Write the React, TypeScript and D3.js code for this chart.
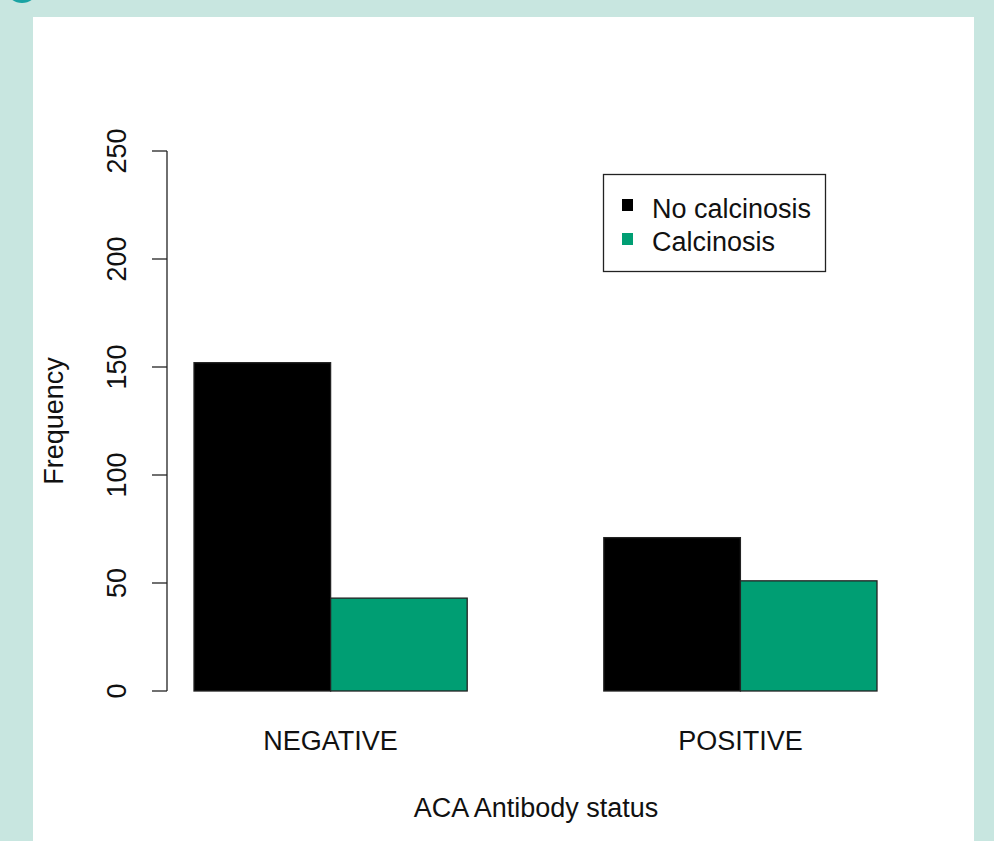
import React from "react";
import * as d3 from "d3";

const categories = ["NEGATIVE", "POSITIVE"];
const seriesNames = ["No calcinosis", "Calcinosis"];
const noCalcinosis = [152, 71];
const calcinosis = [43, 51];
const yTicks = [0, 50, 100, 150, 200, 250];

const colors = ["#000000", "#009E73"];
const FONT = "'Liberation Sans', Arial, sans-serif";
const FS = 27;

export default function App() {
  const W = 994, H = 841;
  const y = d3.scaleLinear().domain([0, 250]).range([691, 151]);
  const x = d3.scaleLinear().domain([1, 6]).range([194, 877]);
  const series = [noCalcinosis, calcinosis];

  const bars: { x0: number; x1: number; v: number; c: string }[] = [];
  categories.forEach((_, i) => {
    series.forEach((s, j) => {
      const start = 1 + i * 3 + j;
      bars.push({ x0: x(start), x1: x(start + 1), v: s[i], c: colors[j] });
    });
  });

  return (
    <svg width={W} height={H} style={{ position: "absolute", left: 0, top: 0 }} fontFamily={FONT}>
      <rect x={0} y={0} width={W} height={H} fill="#c8e6e0" />
      <ellipse cx={22} cy={-8} rx={14} ry={11} fill="#1aa3a3" />
      <rect x={33} y={17} width={941} height={H - 17} fill="#ffffff" />

      {/* bars */}
      {bars.map((b, k) => (
        <rect
          key={k}
          x={b.x0}
          y={y(b.v)}
          width={b.x1 - b.x0}
          height={y(0) - y(b.v)}
          fill={b.c}
          stroke="#222"
          strokeWidth={1.3}
        />
      ))}

      {/* y axis */}
      <line x1={167} x2={167} y1={y(0)} y2={y(250)} stroke="#222" strokeWidth={1.3} />
      {yTicks.map((t) => (
        <g key={t}>
          <line x1={152} x2={167} y1={y(t)} y2={y(t)} stroke="#222" strokeWidth={1.3} />
          <text
            transform={`translate(126,${y(t)}) rotate(-90)`}
            textAnchor="middle"
            fontSize={FS}
            fill="#111"
          >
            {t}
          </text>
        </g>
      ))}

      {/* x category labels */}
      {categories.map((c, i) => (
        <text
          key={c}
          x={(x(1 + i * 3) + x(3 + i * 3)) / 2}
          y={750}
          textAnchor="middle"
          fontSize={FS}
          fill="#111"
        >
          {c}
        </text>
      ))}

      {/* axis titles */}
      <text x={536} y={817} textAnchor="middle" fontSize={FS} fill="#111">
        ACA Antibody status
      </text>
      <text transform={`translate(63,${(y(0) + y(250)) / 2}) rotate(-90)`} textAnchor="middle" fontSize={FS} fill="#111">
        Frequency
      </text>

      {/* legend */}
      <rect x={603.5} y={174.5} width={222} height={97} fill="#fff" stroke="#222" strokeWidth={1.3} />
      {seriesNames.map((n, j) => (
        <g key={n}>
          <rect x={622} y={199 + j * 34} width={11} height={12} fill={colors[j]} />
          <text x={652} y={218 + j * 33} fontSize={FS} fill="#111">
            {n}
          </text>
        </g>
      ))}
    </svg>
  );
}
